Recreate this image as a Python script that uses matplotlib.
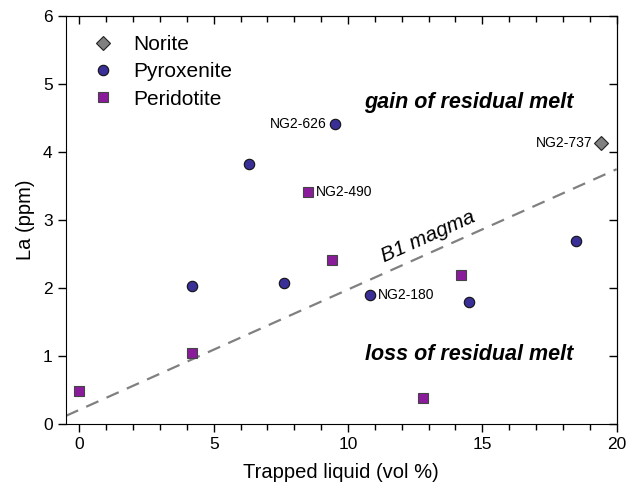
import numpy as np
import matplotlib
matplotlib.use("Agg")
import matplotlib.pyplot as plt
from matplotlib.ticker import MultipleLocator

plt.rcParams["font.family"] = ["Liberation Sans", "DejaVu Sans"]

# Daten
norite_x = [19.4]
norite_y = [4.14]
pyrox_x = [9.5, 6.3, 4.2, 7.6, 10.8, 14.5, 18.5]
pyrox_y = [4.41, 3.82, 2.03, 2.07, 1.90, 1.80, 2.70]
perid_x = [0.0, 4.2, 8.5, 9.4, 14.2, 12.8]
perid_y = [0.48, 1.05, 3.42, 2.42, 2.20, 0.38]

# B1-Magma-Linie (Achsenabschnitt, Steigung)
b1_intercept = 0.21
b1_slope = 0.177

labels = [("NG2-626", 9.5, 4.41, "right"),
          ("NG2-737", 19.4, 4.14, "right"),
          ("NG2-490", 8.5, 3.42, "left"),
          ("NG2-180", 10.8, 1.90, "left")]

fig = plt.figure(figsize=(6.28, 4.92), dpi=100)
ax = fig.add_axes([0.105, 0.138, 0.877, 0.829])

xl = np.array([-0.5, 20.0])
ax.plot(xl, b1_intercept + b1_slope * xl, ls=(0, (6, 4)), color="#808080",
        lw=1.6, zorder=1)

ax.plot(norite_x, norite_y, ls="none", marker="D", ms=7, mfc="#808080",
        mec="#222222", mew=0.8, label="Norite", zorder=3)
ax.plot(pyrox_x, pyrox_y, ls="none", marker="o", ms=7.5, mfc="#3a2f96",
        mec="#111111", mew=0.8, label="Pyroxenite", zorder=3)
ax.plot(perid_x, perid_y, ls="none", marker="s", ms=7, mfc="#8a1c9c",
        mec="#444444", mew=0.8, label="Peridotite", zorder=3)

for txt, x, y, side in labels:
    off = -6 if side == "right" else 6
    ax.annotate(txt, (x, y), xytext=(off, 0), textcoords="offset points",
                ha=side, va="center", fontsize=10)

ax.text(14.5, 4.73, "gain of residual melt", fontsize=15.5, fontweight="bold",
        fontstyle="italic", ha="center", va="center")
ax.text(14.5, 1.03, "loss of residual melt", fontsize=15.5, fontweight="bold",
        fontstyle="italic", ha="center", va="center")

ax.set_xlim(-0.5, 20)
ax.set_ylim(0, 6)

# Beschriftung entlang der Linie drehen
p1 = ax.transData.transform((0, b1_intercept))
p2 = ax.transData.transform((20, b1_intercept + b1_slope * 20))
ang = np.degrees(np.arctan2(p2[1] - p1[1], p2[0] - p1[0]))
ax.text(13.0, b1_intercept + b1_slope * 13.0 + 0.25, "B1 magma", fontsize=15,
        fontstyle="italic", rotation=ang, rotation_mode="anchor",
        ha="center", va="center")

ax.xaxis.set_major_locator(MultipleLocator(5))
ax.xaxis.set_minor_locator(MultipleLocator(1))
ax.yaxis.set_major_locator(MultipleLocator(1))
ax.tick_params(axis="both", which="major", direction="out", length=6,
               width=1, labelsize=12.5)
ax.tick_params(axis="x", which="minor", direction="out", length=4, width=1)
ax.tick_params(axis="both", which="both", top=False, right=False)

sec_x = ax.secondary_xaxis("top")
sec_x.xaxis.set_major_locator(MultipleLocator(5))
sec_x.xaxis.set_minor_locator(MultipleLocator(1))
sec_x.tick_params(which="major", direction="in", length=6, width=1, labeltop=False)
sec_x.tick_params(which="minor", direction="in", length=4, width=1)
sec_y = ax.secondary_yaxis("right")
sec_y.yaxis.set_major_locator(MultipleLocator(1))
sec_y.tick_params(direction="in", length=6, width=1, labelright=False)

ax.set_xlabel("Trapped liquid (vol %)", fontsize=14.5, labelpad=8)
ax.set_ylabel("La (ppm)", fontsize=14.5, labelpad=6)

ax.legend(loc="upper left", frameon=False, fontsize=15, handletextpad=0.45,
          labelspacing=0.4, borderaxespad=0.4, bbox_to_anchor=(0.0, 0.995))

fig.savefig("out.png", dpi=100)
